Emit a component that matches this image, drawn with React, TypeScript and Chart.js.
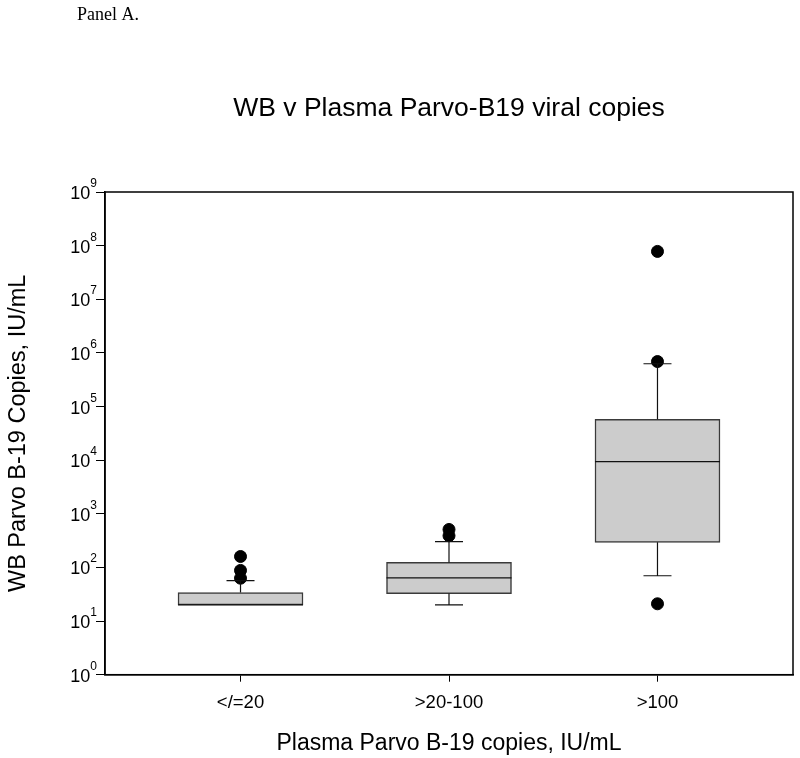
import React, { useEffect, useRef } from 'react';
import { Chart, registerables } from 'chart.js';

Chart.register(...registerables);

// ---- data ----
const categories = ['</=20', '>20-100', '>100'];
const categoryPositions = [1, 2, 3];
const whiskerLow = [20, 20, 70];
const q1 = [20, 32.5, 294];
const medians = [20, 64, 9400];
const q3 = [34, 124, 58000];
const whiskerHigh = [57, 303, 627000];
const outliersGroup1 = [160, 88, 63];
const outliersGroup2 = [510, 390];
const outliersGroup3 = [78000000, 690000, 21];
const yTickExponents = [0, 1, 2, 3, 4, 5, 6, 7, 8, 9];

const panelLabel = 'Panel A.';
const titleText = 'WB v Plasma Parvo-B19 viral copies';
const xTitle = 'Plasma Parvo B-19 copies, IU/mL';
const yTitle = 'WB Parvo B-19 Copies, IU/mL';

const SANS = "'Liberation Sans', Arial, sans-serif";

const boxPlugin = {
  id: 'boxWhiskers',
  afterDatasetDraw(chart: any, args: any) {
    if (args.index !== 0) return;
    const { ctx } = chart;
    const ys = chart.scales.y;
    const meta = chart.getDatasetMeta(0);
    const capHalf = 14;
    ctx.save();
    ctx.strokeStyle = '#111';
    ctx.lineWidth = 1.2;
    meta.data.forEach((bar: any, i: number) => {
      const cx = bar.x;
      const half = bar.width / 2;
      const yq1 = ys.getPixelForValue(q1[i]);
      const yq3 = ys.getPixelForValue(q3[i]);
      const ylo = ys.getPixelForValue(whiskerLow[i]);
      const yhi = ys.getPixelForValue(whiskerHigh[i]);
      const ymed = ys.getPixelForValue(medians[i]);
      ctx.beginPath();
      if (whiskerLow[i] < q1[i]) {
        ctx.moveTo(cx, yq1);
        ctx.lineTo(cx, ylo);
        ctx.moveTo(cx - capHalf, ylo);
        ctx.lineTo(cx + capHalf, ylo);
      }
      if (whiskerHigh[i] > q3[i]) {
        ctx.moveTo(cx, yq3);
        ctx.lineTo(cx, yhi);
        ctx.moveTo(cx - capHalf, yhi);
        ctx.lineTo(cx + capHalf, yhi);
      }
      ctx.moveTo(cx - half, ymed);
      ctx.lineTo(cx + half, ymed);
      ctx.stroke();
    });
    ctx.restore();
  },
  afterDraw(chart: any) {
    const { ctx, chartArea } = chart;
    const ys = chart.scales.y;
    ctx.save();
    // frame
    ctx.strokeStyle = '#000';
    ctx.lineWidth = 1.5;
    ctx.strokeRect(chartArea.left, chartArea.top, chartArea.right - chartArea.left, chartArea.bottom - chartArea.top);
    // y tick labels: 10^n
    ctx.fillStyle = '#000';
    const rightEdge = chartArea.left - 8;
    yTickExponents.forEach((e) => {
      const y = ys.getPixelForValue(Math.pow(10, e));
      ctx.font = `12px ${SANS}`;
      const expStr = String(e);
      const ew = ctx.measureText(expStr).width;
      ctx.textAlign = 'left';
      ctx.textBaseline = 'alphabetic';
      ctx.fillText(expStr, rightEdge - ew, y - 5);
      ctx.font = `18px ${SANS}`;
      ctx.textAlign = 'right';
      ctx.fillText('10', rightEdge - ew, y + 7);
    });
    // panel label
    ctx.font = "18px 'Liberation Serif', 'Times New Roman', serif";
    ctx.textAlign = 'left';
    ctx.textBaseline = 'alphabetic';
    ctx.fillText(panelLabel, 77, 20);
    ctx.restore();
  },
};

export default function App() {
  const canvasRef = useRef<HTMLCanvasElement | null>(null);

  useEffect(() => {
    if (!canvasRef.current) return;
    const outlierPoints = [
      ...outliersGroup1.map((v) => ({ x: categoryPositions[0], y: v })),
      ...outliersGroup2.map((v) => ({ x: categoryPositions[1], y: v })),
      ...outliersGroup3.map((v) => ({ x: categoryPositions[2], y: v })),
    ];
    const boxes = categoryPositions.map((x, i) => ({ x, y: [q1[i], q3[i]] }));

    const chart = new Chart(canvasRef.current, {
      type: 'bar',
      data: {
        datasets: [
          {
            type: 'bar',
            data: boxes as any,
            backgroundColor: '#cccccc',
            borderColor: '#3a3a3a',
            borderWidth: 1.5,
            borderSkipped: false,
            barThickness: 125,
          } as any,
          {
            type: 'scatter',
            data: outlierPoints as any,
            backgroundColor: '#000',
            borderColor: '#000',
            pointRadius: 6,
            pointHoverRadius: 6,
            showLine: false,
          } as any,
        ],
      },
      options: {
        responsive: false,
        animation: false,
        devicePixelRatio: 1,
        layout: { padding: { left: 0, right: 5, top: 0, bottom: 0 } },
        plugins: {
          legend: { display: false },
          tooltip: { enabled: false },
          title: {
            display: true,
            text: titleText,
            fullSize: false,
            color: '#000',
            font: { family: SANS, size: 26.5, weight: 'normal' },
            padding: { top: 93, bottom: 67.2 },
          },
        },
        scales: {
          x: {
            type: 'linear',
            min: 0.35,
            max: 3.65,
            offset: false,
            afterBuildTicks: (scale: any) => {
              scale.ticks = categoryPositions.map((v) => ({ value: v }));
            },
            ticks: {
              color: '#000',
              font: { family: SANS, size: 18.5 },
              padding: 10,
              maxRotation: 0,
              autoSkip: false,
              callback: (value: any) => {
                const idx = categoryPositions.indexOf(Number(value));
                return idx >= 0 ? categories[idx] : '';
              },
            },
            grid: { offset: false, drawOnChartArea: false, drawTicks: true, tickLength: 7, color: '#000', lineWidth: 1 },
            border: { display: true, color: '#000', width: 1.5 },
            title: {
              display: true,
              text: xTitle,
              color: '#000',
              font: { family: SANS, size: 23 },
              padding: { top: 5.5, bottom: 1 },
            },
          },
          y: {
            type: 'logarithmic',
            min: 1,
            max: 1e9,
            afterBuildTicks: (scale: any) => {
              scale.ticks = yTickExponents.map((e) => ({ value: Math.pow(10, e) }));
            },
            ticks: { display: false },
            grid: { drawOnChartArea: false, drawTicks: true, tickLength: 9, color: '#000', lineWidth: 1 },
            border: { display: true, color: '#000', width: 1.5 },
            title: {
              display: true,
              text: yTitle,
              color: '#000',
              font: { family: SANS, size: 23.5 },
              padding: { top: 4.5, bottom: 63.3 },
            },
          },
        },
      } as any,
      plugins: [boxPlugin],
    });
    return () => chart.destroy();
  }, []);

  return (
    <div style={{ position: 'fixed', left: 0, top: 0, width: 800, height: 758, background: '#fff' }}>
      <canvas ref={canvasRef} width={800} height={758} style={{ display: 'block' }} />
    </div>
  );
}
